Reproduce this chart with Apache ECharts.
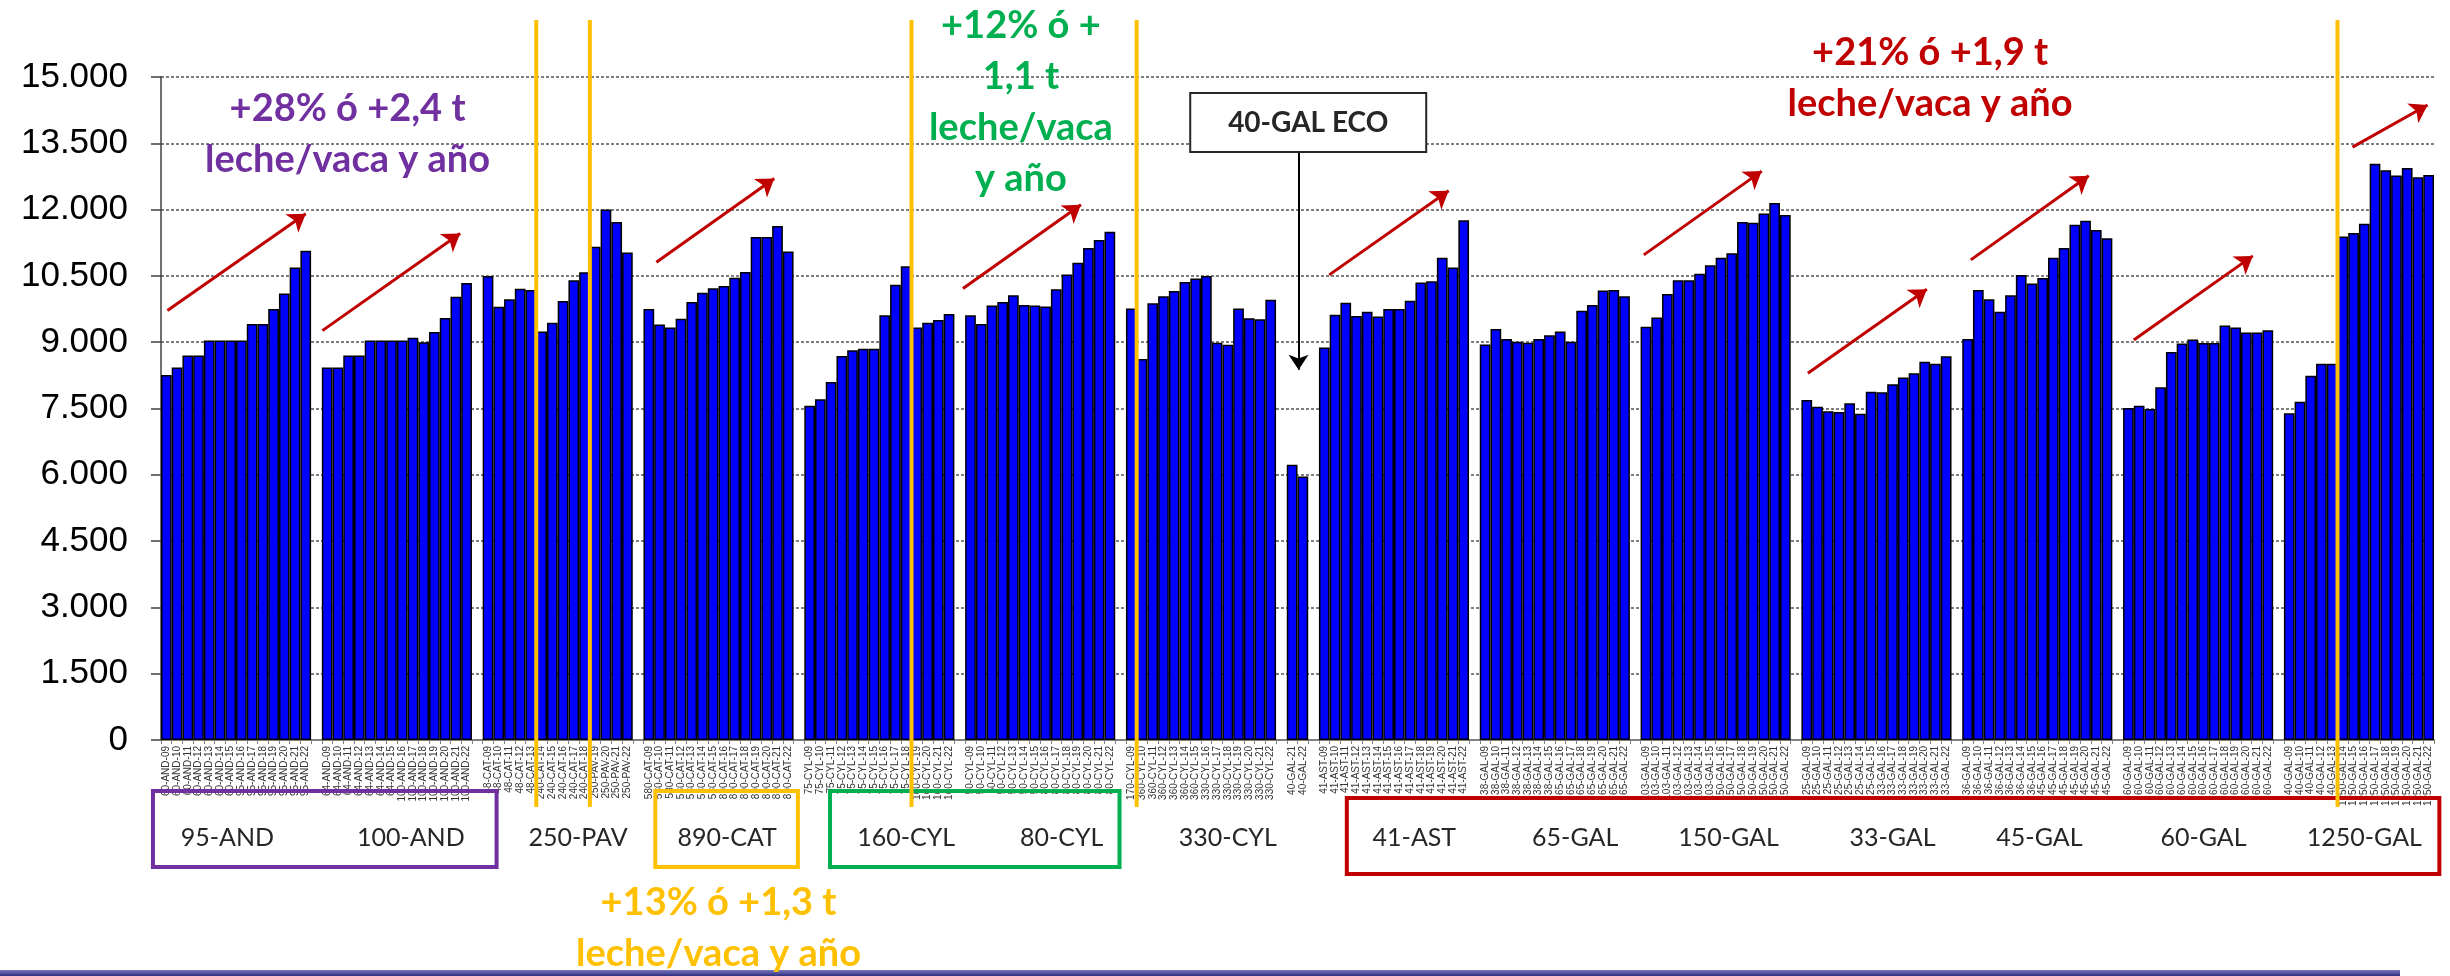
<!DOCTYPE html>
<html>
<head>
<meta charset="utf-8">
<title>Leche por vaca y año</title>
<script src="https://cdn.jsdelivr.net/npm/echarts@6.0.0/dist/echarts.min.js"></script>
<style>
    html, body { margin: 0; padding: 0; background: #fff; }
    #chart { width: 2450px; height: 976px; }
</style>
</head>
<body>
<div id="chart"></div>
<script>
// kg leche / vaca y año, campañas 09 a 22
var years = ['09', '10', '11', '12', '13', '14', '15', '16', '17', '18', '19', '20', '21', '22'];

// one group per farm, codes = [prefix, number of years]
var and95Codes = [['60-AND', 7], ['95-AND', 7]];
var and95 = [8260, 8430, 8700, 8700, 9040, 9040, 9040, 9040, 9410, 9410, 9750, 10100, 10690, 11070];

var and100Codes = [['64-AND', 7], ['100-AND', 7]];
var and100 = [8430, 8430, 8700, 8700, 9040, 9040, 9040, 9040, 9100, 9000, 9230, 9550, 10030, 10340];

var pav250Codes = [['48-CAT', 5], ['240-CAT', 5], ['250-PAV', 4]];
var pav250 = [10500, 9800, 9970, 10210, 10180, 9240, 9440, 9930, 10400, 10580, 11160, 12000, 11720, 11030];

var cat890Codes = [['580-CAT', 7], ['890-CAT', 7]];
var cat890 = [9750, 9400, 9330, 9530, 9910, 10120, 10220, 10270, 10460, 10590, 11380, 11380, 11630, 11050];

var cyl160Codes = [['75-CYL', 10], ['160-CYL', 4]];
var cyl160 = [7560, 7710, 8100, 8690, 8820, 8850, 8850, 9610, 10300, 10720, 9330, 9440, 9500, 9640];

var cyl80Codes = [['50-CYL', 7], ['80-CYL', 7]];
var cyl80 = [9610, 9410, 9830, 9910, 10060, 9840, 9830, 9810, 10200, 10530, 10800, 11130, 11310, 11500];

var cyl330Codes = [['170-CYL', 1], ['360-CYL', 6], ['330-CYL', 7]];
var cyl330 = [9760, 8620, 9880, 10040, 10160, 10360, 10440, 10500, 8990, 8940, 9760, 9540, 9520, 9960];

var galEcoCodes = [['40-GAL', 2]];
var galEco = [6230, 5960];

var ast41Codes = [['41-AST', 14]];
var ast41 = [8880, 9620, 9890, 9590, 9690, 9580, 9750, 9750, 9940, 10350, 10380, 10910, 10690, 11760];

var gal65Codes = [['38-GAL', 7], ['65-GAL', 7]];
var gal65 = [8950, 9300, 9070, 9010, 8990, 9070, 9160, 9240, 9010, 9710, 9840, 10170, 10180, 10040];

var gal150Codes = [['103-GAL', 7], ['150-GAL', 7]];
var gal150 = [9350, 9560, 10090, 10400, 10400, 10550, 10740, 10910, 11010, 11720, 11700, 11910, 12150, 11880];

var gal33Codes = [['25-GAL', 7], ['33-GAL', 7]];
var gal33 = [7690, 7540, 7440, 7420, 7620, 7380, 7880, 7870, 8050, 8200, 8300, 8560, 8510, 8680];

var gal45Codes = [['36-GAL', 7], ['45-GAL', 7]];
var gal45 = [9070, 10180, 9970, 9690, 10060, 10520, 10330, 10450, 10910, 11130, 11660, 11750, 11540, 11350];

var gal60Codes = [['60-GAL', 14]];
var gal60 = [7510, 7560, 7490, 7980, 8780, 8970, 9060, 8980, 8980, 9380, 9330, 9220, 9220, 9270];

var gal1250Codes = [['40-GAL', 5], ['1250-GAL', 9]];
var gal1250 = [7390, 7650, 8240, 8510, 8510, 11390, 11470, 11680, 13040, 12890, 12770, 12940, 12730, 12780];

var groups = [
    { codes: and95Codes, values: and95 },
    { codes: and100Codes, values: and100 },
    { codes: pav250Codes, values: pav250 },
    { codes: cat890Codes, values: cat890 },
    { codes: cyl160Codes, values: cyl160 },
    { codes: cyl80Codes, values: cyl80 },
    { codes: cyl330Codes, values: cyl330 },
    { codes: galEcoCodes, values: galEco, from: 12 },
    { codes: ast41Codes, values: ast41 },
    { codes: gal65Codes, values: gal65 },
    { codes: gal150Codes, values: gal150 },
    { codes: gal33Codes, values: gal33 },
    { codes: gal45Codes, values: gal45 },
    { codes: gal60Codes, values: gal60 },
    { codes: gal1250Codes, values: gal1250 }
];

// names under the axis and where they sit (category units)
var farmNames = ['95-AND', '100-AND', '250-PAV', '890-CAT', '160-CYL', '80-CYL', '330-CYL',
    '41-AST', '65-GAL', '150-GAL', '33-GAL', '45-GAL', '60-GAL', '1250-GAL'];
var farmNamePos = [6.2, 23.3, 38.9, 52.8, 69.5, 84.0, 99.5, 116.9, 131.9, 146.2, 161.5, 175.2, 190.5, 205.5];

// trend arrows: [x1, y1, x2, y2] in category units / kg
var trendArrows = [
    [0.6, 9715, 13.5, 11905],
    [15.05, 9262, 27.9, 11459],
    [46.2, 10810, 57.2, 12705],
    [74.8, 10213, 85.8, 12108],
    [108.96, 10523, 120.1, 12425],
    [138.3, 10976, 149.3, 12871],
    [153.6, 8296, 164.7, 10198],
    [168.8, 10863, 179.8, 12765],
    [184.0, 9051, 195.1, 10953],
    [204.4, 13414, 211.4, 14366]
];

// owner changes (first category of the new farm)
var changeAt = ['240-CAT-14', '250-PAV-19', '160-CYL-19', '360-CYL-10', '1250-GAL-14'];

var categories = [];
var values = [];

groups.forEach(function(g, gi) {

    if (gi > 0) {
        categories.push('');
        values.push(null);
    }

    var y = g.from || 0;
    g.codes.forEach(function(c) {
        for (var k = 0; k < c[1]; k++) {
            categories.push(c[0] + '-' + years[y]);
            y++;
        }
    });

    values = values.concat(g.values);
});

var nCat = categories.length;

var chart = echarts.init(document.getElementById('chart'));

var option = {
    animation: false,
    backgroundColor: '#fff',
    grid: { left: 161, right: 16, top: 77, bottom: 236 },
    xAxis: [{
        type: 'category',
        data: categories,
        axisLine: { lineStyle: { color: '#808080', width: 2 } },
        axisTick: { show: true, length: 4, interval: 0, lineStyle: { color: '#808080' } },
        axisLabel: {
            interval: 0,
            rotate: 90,
            fontSize: 10,
            fontFamily: 'Liberation Sans',
            color: '#333',
            margin: 6
        }
    }, {
        type: 'value',
        min: 0,
        max: nCat,
        show: false
    }],
    yAxis: {
        type: 'value',
        min: 0,
        max: 15000,
        interval: 1500,
        axisLine: { show: true, lineStyle: { color: '#404040', width: 1.5 } },
        axisTick: { show: true, length: 10, lineStyle: { color: '#404040', width: 1.5 } },
        axisLabel: {
            fontSize: 35,
            fontFamily: 'Liberation Sans',
            color: '#000',
            margin: 33,
            formatter: function(v) {
                return String(v).replace(/\B(?=(\d{3})+(?!\d))/g, '.');
            }
        },
        splitLine: { lineStyle: { color: '#555', type: [3, 2], width: 1.5 } }
    },
    series: [{
        type: 'bar',
        data: values,
        barCategoryGap: '0%',
        itemStyle: { color: '#0000FF', borderColor: '#000', borderWidth: 1.5 }
    }, {
        type: 'lines',
        coordinateSystem: 'cartesian2d',
        xAxisIndex: 1,
        yAxisIndex: 0,
        symbol: ['none', 'arrow'],
        symbolSize: 17,
        lineStyle: { color: '#C00000', width: 3, opacity: 1 },
        data: trendArrows.map(function(a) {
            return { coords: [[a[0], a[1]], [a[2], a[3]]] };
        }),
        z: 5
    }, {
        type: 'lines',
        coordinateSystem: 'cartesian2d',
        xAxisIndex: 1,
        yAxisIndex: 0,
        symbol: ['none', 'arrow'],
        symbolSize: 15,
        lineStyle: { color: '#000', width: 2, opacity: 1 },
        data: [{ coords: [[106.1, 13316], [106.1, 8375]] }],
        z: 5
    }]
};

chart.setOption(option);

function ux(u) {
    return chart.convertToPixel({ xAxisIndex: 1 }, u);
}

var graphics = [];

// yellow lines where the farm changed
changeAt.forEach(function(name) {
    var x = ux(categories.indexOf(name));
    graphics.push({
        type: 'line',
        shape: { x1: x, y1: 20, x2: x, y2: 807 },
        style: { stroke: '#FFC000', lineWidth: 4 },
        z: 100
    });
});

function note(text, u, y, color, size) {
    graphics.push({
        type: 'text',
        x: ux(u),
        y: y,
        z: 110,
        style: {
            text: text,
            fill: color,
            font: 'bold ' + size + 'px Lato',
            lineHeight: 51,
            align: 'center',
            verticalAlign: 'middle'
        }
    });
}

note('+28% ó +2,4 t\nleche/vaca y año', 17.4, 134, '#7030A0', 38);
note('+12% ó +\n1,1 t\nleche/vaca\ny año', 80.2, 102, '#00B050', 38);
note('+21% ó +1,9 t\nleche/vaca y año', 165, 78, '#C00000', 38);
note('+13% ó +1,3 t\nleche/vaca y año', 52, 928, '#FFC000', 38);

// coloured frames below the axis
function frame(u1, u2, y1, y2, color) {
    var x1 = ux(u1), x2 = ux(u2);
    graphics.push({
        type: 'rect',
        shape: { x: x1, y: y1, width: x2 - x1, height: y2 - y1 },
        style: { fill: null, stroke: color, lineWidth: 4 },
        z: 90
    });
}

frame(-0.75, 31.3, 791, 867, '#7030A0');
frame(46.1, 59.4, 791, 867, '#FFC000');
frame(62.4, 89.4, 791, 867, '#00B050');
frame(110.6, 212.5, 798, 874, '#C00000');

farmNames.forEach(function(name, i) {
    graphics.push({
        type: 'text',
        x: ux(farmNamePos[i]),
        y: 838,
        z: 95,
        style: {
            text: name,
            fill: '#262626',
            font: '25px Lato',
            align: 'center',
            verticalAlign: 'middle'
        }
    });
});

// 40-GAL ECO callout
var ecoX = ux(107);
graphics.push({
    type: 'rect',
    shape: { x: ecoX - 118, y: 93, width: 236, height: 59 },
    style: { fill: '#fff', stroke: '#262626', lineWidth: 2 },
    z: 100
});
graphics.push({
    type: 'text',
    x: ecoX,
    y: 123,
    z: 101,
    style: {
        text: '40-GAL ECO',
        fill: '#262626',
        font: 'bold 28px Lato',
        align: 'center',
        verticalAlign: 'middle'
    }
});

// slide footer bar
graphics.push({
    type: 'rect',
    shape: { x: 0, y: 970, width: 2400, height: 6 },
    style: {
        fill: new echarts.graphic.LinearGradient(0, 0, 0, 1, [
            { offset: 0, color: '#7A7ABF' },
            { offset: 1, color: '#2E2E80' }
        ])
    },
    z: 100
});

chart.setOption({ graphic: graphics });
</script>
</body>
</html>
